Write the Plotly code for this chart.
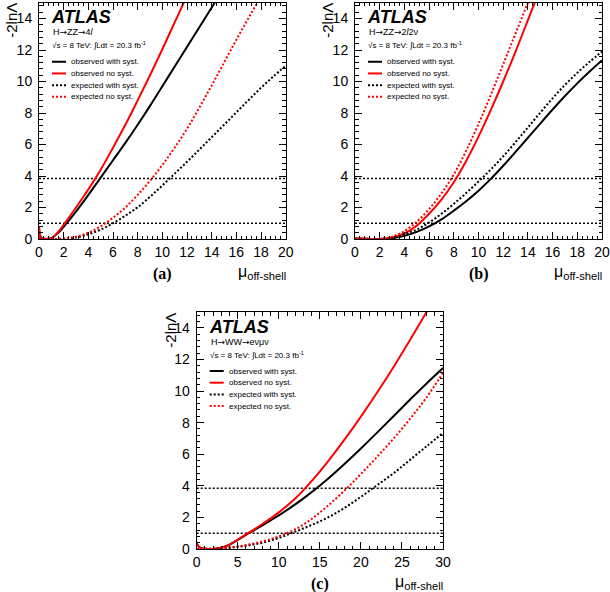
import plotly.graph_objects as go

# ---------------- data ----------------
THRESHOLDS = [1.0, 3.84]

# panel (a)  H->ZZ->4l
a_mu_obs = [0, 0.05, 0.15, 0.3, 0.6, 1.0, 1.5, 2.0, 2.5, 3, 3.5, 4, 5, 6, 7, 8, 9, 10, 11, 12, 13, 14, 15]
a_obs_syst = [0.8, 0.35, 0.12, 0.04, 0.0, 0.05, 0.35, 0.78, 1.25, 1.74, 2.26, 2.8, 3.9, 5.0, 6.1, 7.25, 8.45, 9.7, 10.95, 12.2, 13.45, 14.7, 15.95]
a_mu_obs_ns = [0, 0.05, 0.15, 0.3, 0.6, 1.0, 1.5, 2.0, 2.5, 3, 3.5, 4, 5, 6, 7, 8, 9, 10, 11, 12]
a_obs_nosyst = [0.8, 0.35, 0.12, 0.04, 0.0, 0.05, 0.4, 0.9, 1.44, 2.0, 2.57, 3.15, 4.4, 5.8, 7.25, 8.8, 10.4, 12.05, 13.75, 15.45]
a_mu_exp = [0, 1, 2, 3, 4, 5, 6, 7, 8, 9, 10, 11, 12, 13, 14, 15, 16, 17, 18, 19, 20]
a_exp_syst = [0.03, 0.0, 0.02, 0.1, 0.3, 0.6, 1.0, 1.48, 2.02, 2.68, 3.4, 4.15, 4.9, 5.68, 6.46, 7.25, 8.04, 8.83, 9.6, 10.32, 11.0]
a_mu_exp_ns = [0, 1, 2, 3, 4, 5, 6, 7, 8, 9, 10, 11, 12, 13, 14, 15, 16, 17, 18, 19]
a_exp_nosyst = [0.05, 0.0, 0.03, 0.15, 0.4, 0.8, 1.35, 2.0, 2.8, 3.7, 4.7, 5.8, 7.0, 8.35, 9.75, 11.2, 12.65, 14.05, 15.4, 16.7]

# panel (b)  H->ZZ->2l2nu
b_mu = [0, 1, 2, 3, 4, 5, 6, 7, 8, 9, 10, 11, 12, 13, 14, 15, 16, 17, 18, 19, 20]
b_obs_syst = [0.03, 0.01, 0.0, 0.05, 0.2, 0.45, 0.8, 1.25, 1.8, 2.4, 3.07, 3.82, 4.65, 5.53, 6.43, 7.33, 8.22, 9.08, 9.88, 10.63, 11.35]
b_exp_syst = [0.02, 0.0, 0.0, 0.08, 0.3, 0.6, 1.05, 1.6, 2.23, 2.92, 3.65, 4.42, 5.25, 6.15, 7.08, 8.02, 8.93, 9.78, 10.55, 11.25, 11.9]
b_mu_ns = [0, 1, 2, 3, 4, 5, 6, 7, 8, 9, 10, 11, 12, 13, 14, 15]
b_obs_nosyst = [0.03, 0.01, 0.0, 0.1, 0.35, 0.85, 1.6, 2.5, 3.6, 4.95, 6.5, 8.2, 10.0, 11.9, 13.9, 15.9]
b_exp_nosyst = [0.03, 0.01, 0.0, 0.15, 0.5, 1.1, 1.9, 2.9, 4.1, 5.6, 7.3, 9.15, 11.1, 13.05, 15.0, 16.9]

# panel (c)  H->WW->e nu mu nu
c_mu_obs = [0, 0.3, 0.7, 1.5, 2.5, 3, 4, 5, 6, 7, 8, 9, 10, 12, 14, 16, 18, 20, 22, 24, 26, 28, 30]
c_obs_syst = [0.35, 0.12, 0.03, 0.0, 0.04, 0.08, 0.28, 0.58, 0.9, 1.2, 1.5, 1.81, 2.13, 2.82, 3.6, 4.45, 5.38, 6.36, 7.38, 8.42, 9.46, 10.48, 11.45]
c_obs_nosyst = [0.35, 0.12, 0.03, 0.0, 0.04, 0.08, 0.28, 0.6, 0.92, 1.24, 1.58, 1.94, 2.32, 3.2, 4.3, 5.55, 6.92, 8.38, 9.92, 11.54, 13.24, 15.0, 16.8]
c_mu_exp = [0, 2, 4, 6, 8, 10, 12, 14, 16, 18, 20, 22, 24, 26, 28, 30]
c_exp_syst = [0.0, 0.02, 0.08, 0.2, 0.4, 0.7, 1.1, 1.52, 2.0, 2.6, 3.3, 4.05, 4.8, 5.65, 6.5, 7.35]
c_exp_nosyst = [0.0, 0.02, 0.1, 0.25, 0.48, 0.8, 1.25, 1.9, 2.75, 3.7, 4.75, 5.85, 7.0, 8.25, 9.6, 11.15]

LEGEND_LABELS = ["observed with syst.", "observed no syst.", "expected with syst.", "expected no syst."]
ARR = "<span style=\"font-family:'DejaVu Sans'\">\u2192</span>"
CHANNELS = {"a": "H" + ARR + "ZZ" + ARR + "4<i>l</i>",
            "b": "H" + ARR + "ZZ" + ARR + "2<i>l</i>2\u03bd",
            "c": "H" + ARR + "WW" + ARR + "e\u03bd\u03bc\u03bd"}
X_RANGES = {"a": [0, 20], "b": [0, 20], "c": [0, 30]}
Y_RANGE = [0, 15]

# ---------------- styling / layout ----------------
W, H = 610, 592
FRAMES = {"a": (39, 2.75, 285.7, 239), "b": (355, 2.75, 602, 239), "c": (196.7, 312, 443, 549)}
AX_IDS = {"a": ("x", "y", "xaxis", "yaxis"), "b": ("x2", "y2", "xaxis2", "yaxis2"), "c": ("x3", "y3", "xaxis3", "yaxis3")}
SANS = "Liberation Sans, Arial, Helvetica, sans-serif"
SERIF = "Liberation Serif, Times New Roman, serif"
RED = "#ff0000"
DOT = "2px,2px"
STYLES = [dict(color="black", width=2, dash="solid"),
          dict(color=RED, width=2, dash="solid"),
          dict(color="black", width=2, dash=DOT),
          dict(color=RED, width=2, dash=DOT)]


def px(x, y):
    return x / W, 1 - y / H


fig = go.Figure()

series = {
    "a": [(a_mu_obs, a_obs_syst), (a_mu_obs_ns, a_obs_nosyst), (a_mu_exp, a_exp_syst), (a_mu_exp_ns, a_exp_nosyst)],
    "b": [(b_mu, b_obs_syst), (b_mu_ns, b_obs_nosyst), (b_mu, b_exp_syst), (b_mu_ns, b_exp_nosyst)],
    "c": [(c_mu_obs, c_obs_syst), (c_mu_obs, c_obs_nosyst), (c_mu_exp, c_exp_syst), (c_mu_exp, c_exp_nosyst)],
}

annotations = []
shapes = []
for key in ["a", "b", "c"]:
    xid, yid, xname, yname = AX_IDS[key]
    L, T, R, B = FRAMES[key]
    xr = X_RANGES[key]
    for th in THRESHOLDS:
        fig.add_trace(go.Scatter(x=xr, y=[th, th], mode="lines", xaxis=xid, yaxis=yid,
                                 line=dict(color="black", width=1.5, dash=DOT), hoverinfo="skip"))
    for (mx, vals), st, name in zip(series[key], STYLES, LEGEND_LABELS):
        fig.add_trace(go.Scatter(x=mx, y=vals, mode="lines", name=name, xaxis=xid, yaxis=yid,
                                 line=dict(color=st["color"], width=st["width"], dash=st["dash"],
                                           shape="spline", smoothing=1.0)))

    big = 5 if key == "c" else 2
    minor = 1 if key == "c" else 0.4
    common = dict(showline=True, linecolor="black", linewidth=1, mirror="allticks", ticks="inside",
                  ticklen=7, tickwidth=1, tickcolor="black", showgrid=False, zeroline=False,
                  automargin=False, tickfont=dict(family=SANS, size=14, color="black"))
    x0, y1 = px(L, T)
    x1, y0 = px(R, B)
    fig.layout[xname] = dict(domain=[x0, x1], range=xr, anchor=yid, tick0=0, dtick=big,
                             minor=dict(ticks="inside", ticklen=3.5, dtick=minor, tick0=0,
                                        tickcolor="black", tickwidth=1),
                             **common)
    fig.layout[yname] = dict(domain=[y0, y1], range=Y_RANGE, anchor=xid, tick0=0, dtick=2,
                             ticklabelstandoff=3,
                             minor=dict(ticks="inside", ticklen=3.5, dtick=0.4, tick0=0,
                                        tickcolor="black", tickwidth=1),
                             **common)

    tx, ty = px(L - 27, T - 1.5)
    annotations.append(dict(x=tx, y=ty, xref="paper", yref="paper", text="-2ln\u039b", showarrow=False,
                            textangle=-90, xanchor="center", yanchor="top",
                            font=dict(family=SANS, size=15, color="black")))
    ax_, ay_ = px(L + 10, T + 14.5)
    annotations.append(dict(x=ax_, y=ay_, xref="paper", yref="paper", text="<b><i>ATLAS</i></b>", showarrow=False,
                            xanchor="left", yanchor="middle", font=dict(family=SANS, size=18, color="black")))
    hx, hy = px(L + 12, T + 29.5)
    annotations.append(dict(x=hx, y=hy, xref="paper", yref="paper", text=CHANNELS[key], showarrow=False,
                            xanchor="left", yanchor="middle", font=dict(family=SANS, size=9, color="black")))
    sx, sy = px(L + 11, T + 42.5)
    annotations.append(dict(x=sx, y=sy, xref="paper", yref="paper",
                            text="\u221as = 8 TeV: \u222bLdt = 20.3 fb<sup>-1</sup>", showarrow=False,
                            xanchor="left", yanchor="middle", font=dict(family=SANS, size=8, color="black")))
    for i, (st, name) in enumerate(zip(STYLES, LEGEND_LABELS)):
        yy = T + 59 + i * 11.7
        lx0, ly = px(L + 13, yy)
        lx1, _ = px(L + 27, yy)
        shapes.append(dict(type="line", xref="paper", yref="paper", x0=lx0, x1=lx1, y0=ly, y1=ly,
                           line=dict(color=st["color"], width=2, dash=st["dash"])))
        tx2, _ = px(L + 30, yy)
        annotations.append(dict(x=tx2, y=ly, xref="paper", yref="paper", text=name, showarrow=False,
                                xanchor="left", yanchor="middle", font=dict(family=SANS, size=8, color="black")))
    cx, cy = px((L + R) / 2, B + 35)
    annotations.append(dict(x=cx, y=cy, xref="paper", yref="paper", text="<b>(" + key + ")</b>", showarrow=False,
                            xanchor="center", yanchor="middle", font=dict(family=SERIF, size=16, color="black")))
    mx_, my_ = px(R + 2, B + 33)
    annotations.append(dict(x=mx_, y=my_, xref="paper", yref="paper", text="\u03bc<sub>off-shell</sub>",
                            showarrow=False, xanchor="right", yanchor="middle",
                            font=dict(family=SANS, size=16, color="black")))

fig.update_layout(width=W, height=H, margin=dict(l=0, r=0, t=0, b=0, autoexpand=False), showlegend=False,
                  paper_bgcolor="white", plot_bgcolor="white",
                  annotations=annotations, shapes=shapes)

fig.write_html("out.html", config={"displayModeBar": False},
               post_script="document.body.style.margin='0px';document.body.style.overflow='hidden';")
